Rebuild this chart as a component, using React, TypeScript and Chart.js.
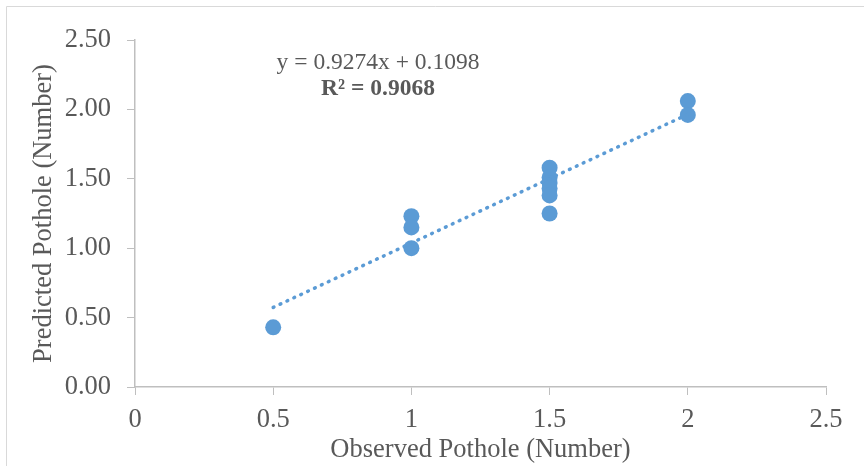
import React, { useEffect, useRef } from "react";
import { Chart, registerables } from "chart.js";

Chart.register(...registerables);

const observed: number[] = [0.5, 1, 1, 1, 1.5, 1.5, 1.5, 1.5, 1.5, 1.5, 2, 2];
const predicted: number[] = [0.43, 1.23, 1.15, 1.0, 1.58, 1.51, 1.47, 1.43, 1.38, 1.25, 2.06, 1.96];
const trendX: number[] = [0.5, 2];
const trendY: number[] = [0.5735, 1.9646];
const equationText = "y = 0.9274x + 0.1098";
const r2Text = "R² = 0.9068";
const xTitle = "Observed Pothole (Number)";
const yTitle = "Predicted Pothole (Number)";

const FONT = "'Liberation Serif', 'Times New Roman', serif";
const TEXT = "#595959";
const AXIS = "#bfbfbf";
const BLUE = "#5b9bd5";

const decorPlugin = {
  id: "decor",
  beforeDraw(chart: any) {
    const ctx = chart.ctx;
    ctx.save();
    ctx.strokeStyle = "#d9d9d9";
    ctx.lineWidth = 1;
    ctx.beginPath();
    ctx.moveTo(6.5, 466);
    ctx.lineTo(6.5, 6.5);
    ctx.lineTo(864, 6.5);
    ctx.stroke();
    ctx.restore();
  },
  afterDraw(chart: any) {
    const ctx = chart.ctx;
    ctx.save();
    ctx.fillStyle = TEXT;
    ctx.textAlign = "center";
    ctx.textBaseline = "middle";
    ctx.font = `23.5px ${FONT}`;
    ctx.fillText(equationText, 378, 63);
    ctx.font = `bold 23.5px ${FONT}`;
    ctx.fillText(r2Text, 378, 89);
    ctx.restore();
  },
};

export default function App() {
  const ref = useRef<HTMLCanvasElement | null>(null);
  useEffect(() => {
    if (!ref.current) return;
    const chart = new Chart(ref.current, {
      type: "scatter",
      data: {
        datasets: [
          {
            type: "line",
            label: "Trend",
            data: trendX.map((x, i) => ({ x, y: trendY[i] })),
            borderColor: BLUE,
            borderWidth: 3.5,
            borderDash: [0.8, 6.8],
            borderCapStyle: "round",
            pointRadius: 0,
            fill: false,
          } as any,
          {
            label: "Predicted",
            data: observed.map((x, i) => ({ x, y: predicted[i] })),
            backgroundColor: BLUE,
            borderColor: BLUE,
            pointRadius: 8,
            pointBorderWidth: 0,
          },
        ],
      },
      options: {
        responsive: false,
        animation: false,
        layout: { padding: { top: 40, right: 38, bottom: 0, left: 0 } },
        plugins: {
          legend: { display: false },
          tooltip: { enabled: false },
        },
        scales: {
          x: {
            type: "linear",
            min: 0,
            max: 2.5,
            ticks: {
              stepSize: 0.5,
              color: TEXT,
              font: { family: FONT, size: 26.5 },
              padding: 9,
              maxRotation: 0,
              callback: (v: any) => String(Number(v)),
            },
            grid: {
              drawOnChartArea: false,
              drawTicks: true,
              tickLength: 8,
              color: AXIS,
            },
            border: { color: AXIS, width: 1.5 },
            title: {
              display: true,
              text: xTitle,
              color: TEXT,
              font: { family: FONT, size: 26.5 },
              padding: 0,
            },
            afterFit(scale: any) {
              scale.height = 79;
            },
          },
          y: {
            type: "linear",
            min: 0,
            max: 2.5,
            ticks: {
              stepSize: 0.5,
              color: TEXT,
              font: { family: FONT, size: 26.5 },
              padding: 16,
              callback: (v: any) => Number(v).toFixed(2),
            },
            grid: {
              drawOnChartArea: false,
              drawTicks: true,
              tickLength: 8,
              color: AXIS,
            },
            border: { color: AXIS, width: 1.5 },
            title: {
              display: true,
              text: yTitle,
              color: TEXT,
              font: { family: FONT, size: 26.5 },
              padding: { top: 28, bottom: 0 },
            },
            afterFit(scale: any) {
              scale.width = 135;
            },
          },
        },
      },
      plugins: [decorPlugin],
    });
    return () => chart.destroy();
  }, []);
  return (
    <div style={{ position: "fixed", left: 0, top: 0, width: 864, height: 466, background: "#fff" }}>
      <canvas ref={ref} width={864} height={466} style={{ display: "block" }} />
    </div>
  );
}
